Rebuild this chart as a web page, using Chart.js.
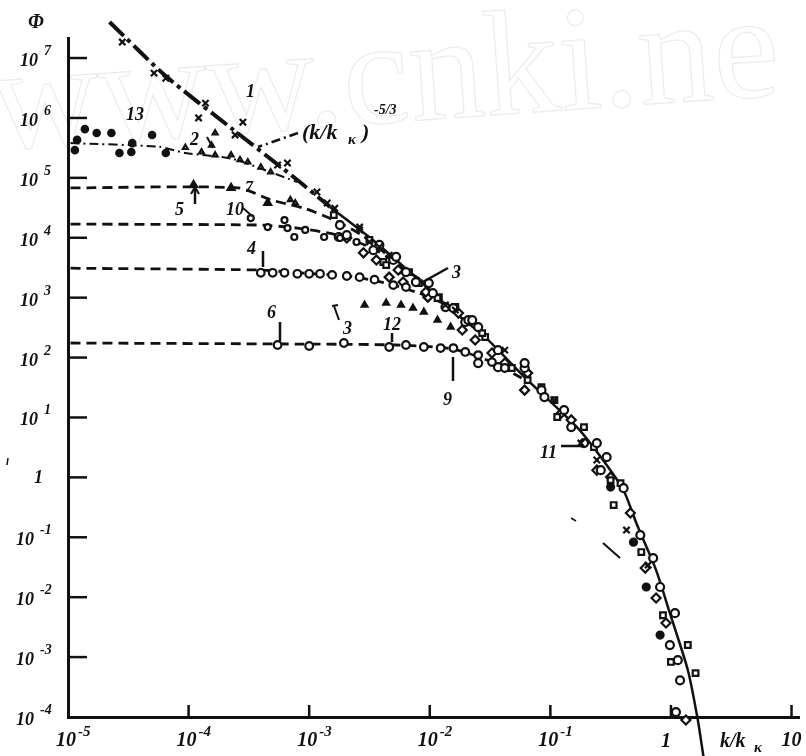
<!DOCTYPE html>
<html>
<head>
<meta charset="utf-8">
<script src="https://cdn.jsdelivr.net/npm/chart.js@4.4.1/dist/chart.umd.min.js"></script>
<style>
  html, body { margin: 0; padding: 0; background: #fff; }
  #grafico { display: block; }
</style>
</head>
<body>
<canvas id="grafico" width="806" height="756"></canvas>
<script>
// espectro universal: Phi em funcao de k/k_kappa
var reta1K = [2.21e-5, 6.47e-5, 2.25e-4, 7.98e-4, 1.49e-3];
var reta1Phi = [4.0e7, 5.0e6, 6.8e5, 9.2e4, 3.26e4];

var curvaK = [1.49e-3, 3.61e-3, 8.12e-3, 1.63e-2, 2.88e-2, 6.48e-2, 0.166, 0.262, 0.404, 0.516, 0.753, 0.98, 1.38, 1.66, 1.86];
var curvaPhi = [3.26e4, 8.2e3, 1.97e3, 553, 220, 42, 6.9, 2.18, 0.61, 0.173, 0.0283, 5.4e-3, 6.1e-4, 9.6e-5, 2.2e-5];

var nivel13K = [1.05e-5, 5.67e-5, 9.4e-5, 2.25e-4, 4.28e-4, 7.98e-4];
var nivel13Phi = [3.8e5, 3.3e5, 2.6e5, 2.1e5, 1.35e5, 8.5e4];
var nivel5K = [1.05e-5, 2.57e-4, 4.79e-4, 9.10e-4, 1.60e-3, 2.72e-3, 4.79e-3];
var nivel5Phi = [6.8e4, 6.8e4, 4.3e4, 3.1e4, 1.97e4, 1.11e4, 4.6e3];
var nivel10K = [1.05e-5, 3.75e-4, 7.98e-4, 1.70e-3, 3.61e-3, 6.35e-3, 9.27e-3];
var nivel10Phi = [1.69e4, 1.63e4, 1.45e4, 1.11e4, 6.2e3, 2.89e3, 1.75e3];
var nivel4K = [1.05e-5, 3.97e-4, 7.98e-4, 2.05e-3, 4.35e-3, 7.67e-3, 1.23e-2, 1.70e-2];
var nivel4Phi = [3.1e3, 2.89e3, 2.6e3, 2.3e3, 1.75e3, 1.24e3, 845, 513];
var nivel6K = [1.05e-5, 7.98e-4, 5.26e-3, 1.55e-2, 3.28e-2, 5.78e-2];
var nivel6Phi = [175, 168, 162, 139, 84, 45.5];

var crucesK = [2.82e-5, 5.17e-5, 6.47e-5, 1.38e-4, 1.21e-4, 2.82e-4, 2.43e-4, 5.47e-4, 6.61e-4, 1.16e-3, 1.41e-3, 1.63e-3, 2.62e-3, 3.16e-3, 3.82e-3, 1.63e-2, 0.179, 0.428, 0.647,
    2.62e-3, 4.61e-3, 1.35e-2, 4.19e-2, 0.108, 0.243];
var crucesPhi = [1.85e7, 5.6e6, 4.6e6, 1.77e6, 1.0e6, 8.5e5, 5.2e5, 1.64e5, 1.77e5, 5.8e4, 3.8e4, 3.1e4, 1.35e4, 8.5e3, 7.0e3, 621, 3.74, 0.132, 0.0344,
    1.51e4, 5.1e3, 752, 133, 19.5, 1.95];
var pontos13K = [1.38e-5, 1.73e-5, 2.29e-5, 1.19e-5, 1.14e-5, 2.67e-5, 3.35e-5, 4.98e-5, 6.47e-5, 3.41e-5];
var pontos13Phi = [6.5e5, 5.6e5, 5.6e5, 4.3e5, 2.9e5, 2.6e5, 2.7e5, 5.2e5, 2.6e5, 3.8e5];
var serie2K = [9.4e-5, 1.28e-4, 1.55e-4, 1.66e-4, 2.25e-4, 2.67e-4, 3.10e-4, 3.97e-4, 4.79e-4, 1.66e-4, 6.98e-4, 7.67e-4];
var serie2Phi = [3.2e5, 2.7e5, 3.5e5, 2.4e5, 2.4e5, 2.0e5, 1.84e5, 1.51e5, 1.25e5, 5.6e5, 4.3e4, 3.8e4];
var serie5K = [1.10e-4, 2.25e-4, 4.53e-4];
var serie5Phi = [7.6e4, 6.8e4, 3.8e4];
var serie10K = [3.28e-4, 4.53e-4, 6.61e-4, 9.27e-4, 1.33e-3, 1.80e-3, 7.53e-4, 6.24e-4, 2.47e-3];
var serie10Phi = [2.13e4, 1.51e4, 1.45e4, 1.35e4, 1.03e4, 9.9e3, 1.03e4, 1.97e4, 8.5e3];
var serie4K = [3.97e-4, 4.98e-4, 6.24e-4, 7.98e-4, 1.0e-3, 1.23e-3, 1.55e-3, 2.05e-3, 2.62e-3, 3.48e-3, 4.98e-3, 6.35e-3];
var serie4Phi = [2.6e3, 2.6e3, 2.6e3, 2.5e3, 2.5e3, 2.5e3, 2.4e3, 2.3e3, 2.2e3, 2.0e3, 1.62e3, 1.5e3];
var serie12K = [2.88e-3, 4.35e-3, 5.78e-3, 7.26e-3, 8.93e-3, 1.16e-2, 1.49e-2];
var serie12Phi = [752, 813, 752, 670, 575, 423, 323];
var serie6K = [5.47e-4, 1.0e-3, 1.94e-3, 4.61e-3, 6.35e-3, 8.93e-3, 1.23e-2, 1.57e-2, 1.97e-2, 2.52e-2, 3.28e-2, 4.19e-2];
var serie6Phi = [162, 156, 175, 150, 162, 150, 144, 144, 124, 110, 84, 67];
var circulosK = [1.76e-3, 2.05e-3, 3.41e-3, 4.98e-3, 6.35e-3, 9.82e-3, 1.35e-2, 1.97e-2, 2.52e-2, 2.09e-2, 3.68e-2, 6.12e-2, 8.44e-2, 0.149, 0.243, 0.293, 0.405, 0.557, 0.712, 0.813, 1.08, 0.98, 1.14, 1.19, 1.10,
    1.80e-3, 3.82e-3, 5.26e-3, 7.67e-3, 1.06e-2, 1.57e-2, 2.25e-2, 2.52e-2, 3.68e-2, 6.12e-2, 8.93e-2, 0.130, 0.190, 0.262];
var circulosPhi = [1.03e4, 1.11e4, 6.2e3, 4.25e3, 2.67e3, 1.75e3, 697, 392, 323, 423, 133, 67, 28.6, 6.9, 3.74, 2.18, 0.66, 0.109, 0.045, 0.0148, 5.4e-3, 1.59e-3, 8.9e-4, 4.1e-4, 1.21e-4,
    1.63e4, 7.6e3, 4.8e3, 1.82e3, 1.19e3, 670, 423, 81, 69, 81, 21.9, 13.3, 3.74, 1.32];
var quadradosK = [4.12e-3, 8.12e-3, 1.19e-2, 1.63e-2, 2.88e-2, 6.48e-2, 0.108, 0.190, 0.316, 0.335, 0.568, 0.859, 1.38, 1.60, 1.0,
    1.60e-3, 3.16e-3, 4.35e-3, 6.73e-3, 1.16e-2, 2.72e-2, 4.79e-2, 8.44e-2, 0.114, 0.230, 0.382];
var quadradosPhi = [3.93e3, 1.75e3, 1.02e3, 697, 220, 42, 19.5, 6.9, 0.90, 0.345, 0.0566, 5.0e-3, 1.59e-3, 5.4e-4, 8.3e-4,
    2.39e4, 9.2e3, 3.5e3, 2.67e3, 984, 256, 67, 32, 10.2, 3.2, 0.80];
var losangosK = [2.82e-3, 4.61e-3, 6.01e-3, 9.64e-3, 1.86e-2, 4.19e-2, 6.12e-2, 0.123, 0.243, 0.461, 0.612, 0.753, 0.910, 1.33,
    2.05e-3, 3.61e-3, 5.47e-3, 9.27e-3, 1.73e-2, 2.38e-2, 3.28e-2, 6.48e-2, 0.149, 0.316];
var losangosPhi = [5.6e3, 2.2e3, 1.82e3, 1.02e3, 288, 81, 28.6, 11.8, 1.32, 0.254, 0.0306, 9.7e-3, 3.7e-3, 8.9e-5,
    9.9e3, 4.25e3, 2.89e3, 1.24e3, 553, 196, 119, 55, 9.1, 1.01];
var cheiosK = [5.57e-3, 0.489, 0.624, 0.813, 0.316];
var cheiosPhi = [2.89e3, 0.083, 0.0148, 2.33e-3, 0.69];

var yTicks = [1e7, 1e6, 1e5, 1e4, 1e3, 1e2, 1e1, 1, 1e-1, 1e-2, 1e-3, 1e-4];
var yBases = ['10', '10', '10', '10', '10', '10', '10', '1', '10', '10', '10', '10'];
var yExpoentes = ['7', '6', '5', '4', '3', '2', '1', '', '-1', '-2', '-3', '-4'];
var xTicks = [1e-5, 1e-4, 1e-3, 1e-2, 1e-1, 1, 10];
var xBases = ['10', '10', '10', '10', '10', '1', '10'];
var xExpoentes = ['-5', '-4', '-3', '-2', '-1', '', ''];

function pares(xs, ys) {
    var r = [];
    for (var i = 0; i < xs.length; i++) {
        r.push({ x: xs[i], y: ys[i] });
    }
    return r;
}

function linha(xs, ys, largura, tracejado) {
    return {
        data: pares(xs, ys),
        showLine: true,
        borderColor: '#111',
        borderWidth: largura,
        borderDash: tracejado,
        pointRadius: 0,
        tension: 0.25,
        clip: false,
        order: 2
    };
}

function marcas(xs, ys, estilo, raio, cheio) {
    return {
        data: pares(xs, ys),
        showLine: false,
        pointStyle: estilo,
        pointRadius: raio,
        pointBorderColor: '#111',
        pointBackgroundColor: cheio ? '#111' : '#fff',
        pointBorderWidth: 2.2,
        clip: false,
        order: 1
    };
}

var fonte = "'Liberation Serif'";

function texto(ctx, s, x, y, tam, alinh) {
    ctx.font = 'italic bold ' + tam + 'px ' + fonte;
    ctx.textAlign = alinh || 'left';
    ctx.fillText(s, x, y);
}

function traco(ctx, x1, y1, x2, y2, w) {
    ctx.lineWidth = w || 2;
    ctx.beginPath();
    ctx.moveTo(x1, y1);
    ctx.lineTo(x2, y2);
    ctx.stroke();
}

var marcaDagua = {
    id: 'marcaDagua',
    beforeDraw: function (chart) {
        var ctx = chart.ctx;
        ctx.save();
        ctx.translate(-6, 150);
        ctx.rotate(-0.07);
        ctx.font = "150px 'Liberation Serif'";
        ctx.strokeStyle = 'rgba(0,0,0,0.08)';
        ctx.lineWidth = 1.3;
        ctx.strokeText('www.cnki.ne', 0, 0);
        ctx.restore();
    }
};

var rotulos = {
    id: 'rotulos',
    afterDraw: function (chart) {
        var ctx = chart.ctx;
        var xs = chart.scales.x;
        var ys = chart.scales.y;
        ctx.save();
        ctx.fillStyle = '#111';
        ctx.strokeStyle = '#111';
        ctx.textBaseline = 'alphabetic';

        // marcas e rotulos do eixo y
        for (var i = 0; i < yTicks.length; i++) {
            var py = ys.getPixelForValue(yTicks[i]);
            if (i < yTicks.length - 1) traco(ctx, xs.left, py, xs.left + 19, py, 2.5);
            var neg = yExpoentes[i].charAt(0) == '-';
            if (yExpoentes[i] == '') {
                texto(ctx, yBases[i], 43, py + 6, 18, 'right');
            } else {
                texto(ctx, yBases[i], neg ? 34 : 38, py + 8, 18, 'right');
                texto(ctx, yExpoentes[i], neg ? 40 : 44, py - 3, 14);
            }
        }
        // marcas e rotulos do eixo x
        for (var j = 0; j < xTicks.length; j++) {
            var px = xs.getPixelForValue(xTicks[j]);
            if (j > 0) traco(ctx, px, ys.bottom, px, ys.bottom - 12, 2.5);
            if (xExpoentes[j] == '') {
                if (xBases[j] == '1') texto(ctx, '1', px, ys.bottom + 30, 20, 'right');
                else texto(ctx, xBases[j], px - 10, ys.bottom + 29, 20);
            } else {
                texto(ctx, xBases[j], px - 12, ys.bottom + 29, 20);
                texto(ctx, xExpoentes[j], px + 10, ys.bottom + 19, 15);
            }
        }
        texto(ctx, 'k/k', 720, ys.bottom + 30, 20);
        texto(ctx, '\u03ba', 754, ys.bottom + 35, 15);
        texto(ctx, '\u03a6', 28, 28, 20);

        // numeros das curvas
        texto(ctx, '1', 246, 97, 18);
        texto(ctx, '13', 126, 120, 18);
        texto(ctx, '2', 190, 145, 18);
        texto(ctx, '(k/k', 302, 139, 22);
        texto(ctx, '\u03ba', 348, 144, 15);
        texto(ctx, ')', 362, 139, 22);
        texto(ctx, '-5/3', 374, 114, 14);
        texto(ctx, '5', 175, 215, 18);
        texto(ctx, '10', 226, 215, 18);
        texto(ctx, '7', 245, 192, 16);
        texto(ctx, '4', 247, 254, 18);
        texto(ctx, '3', 452, 278, 18);
        texto(ctx, '6', 267, 318, 18);
        texto(ctx, '3', 343, 334, 18);
        texto(ctx, '12', 383, 330, 18);
        texto(ctx, '9', 443, 405, 18);
        texto(ctx, '11', 540, 458, 18);

        // tracos de chamada
        traco(ctx, 195, 204, 195, 189, 2.5);
        traco(ctx, 191, 194, 195, 187, 2);
        traco(ctx, 199, 194, 195, 187, 2);
        traco(ctx, 263, 251, 263, 267, 2.5);
        traco(ctx, 448, 268, 421, 283, 2.5);
        traco(ctx, 280, 322, 280, 341, 2.5);
        traco(ctx, 392, 333, 392, 342, 2.5);
        traco(ctx, 453, 381, 453, 357, 2.5);
        traco(ctx, 561, 446, 583, 446, 2.5);
        traco(ctx, 339, 320, 334, 306, 2);
        traco(ctx, 332, 306, 338, 305, 2);
        traco(ctx, 207, 137, 213, 148, 2);
        traco(ctx, 243, 208, 252, 216, 2);
        ctx.setLineDash([9, 4, 2, 4]);
        traco(ctx, 298, 133, 258, 147, 2.5);
        ctx.setLineDash([]);
        // sujeira da impressao
        traco(ctx, 603, 543, 620, 558, 2);
        traco(ctx, 571, 518, 576, 521, 1.5);
        traco(ctx, 8, 458, 7, 465, 1.5);
        ctx.restore();
    }
};

var grafico = document.getElementById('grafico').getContext('2d');

new Chart(grafico, {
    type: 'scatter',
    data: {
        datasets: [
            marcas(crucesK, crucesPhi, 'crossRot', 4.5, false),
            marcas(pontos13K, pontos13Phi, 'circle', 3.2, true),
            marcas(serie2K, serie2Phi, 'triangle', 2.8, false),
            marcas(serie5K, serie5Phi, 'triangle', 4, true),
            marcas(serie10K, serie10Phi, 'circle', 3, false),
            marcas(serie4K, serie4Phi, 'circle', 3.8, false),
            marcas(serie12K, serie12Phi, 'triangle', 3.3, true),
            marcas(serie6K, serie6Phi, 'circle', 3.8, false),
            marcas(circulosK, circulosPhi, 'circle', 4, false),
            marcas(quadradosK, quadradosPhi, 'rect', 4, false),
            marcas(losangosK, losangosPhi, 'rectRot', 4.5, false),
            marcas(cheiosK, cheiosPhi, 'circle', 3.5, true),
            linha(reta1K, reta1Phi, 4, [20, 5, 4, 5]),
            linha(curvaK, curvaPhi, 2.5, []),
            linha(nivel13K, nivel13Phi, 2, [9, 4, 2, 4]),
            linha(nivel5K, nivel5Phi, 2.8, [10, 6]),
            linha(nivel10K, nivel10Phi, 2.8, [10, 6]),
            linha(nivel4K, nivel4Phi, 2.8, [10, 6]),
            linha(nivel6K, nivel6Phi, 2.8, [10, 6])
        ]
    },
    options: {
        responsive: false,
        animation: false,
        devicePixelRatio: 1,
        layout: {
            padding: { left: 68, right: 1, top: 38, bottom: 39 }
        },
        plugins: {
            legend: { display: false },
            tooltip: { enabled: false }
        },
        scales: {
            x: {
                type: 'logarithmic',
                min: 1e-5,
                max: 11.6,
                grid: { display: false, drawTicks: false },
                border: { display: true, color: '#111', width: 3 },
                ticks: { display: false }
            },
            y: {
                type: 'logarithmic',
                min: 1e-4,
                max: 2.16e7,
                grid: { display: false, drawTicks: false },
                border: { display: true, color: '#111', width: 3 },
                ticks: { display: false }
            }
        }
    },
    plugins: [marcaDagua, rotulos]
});
</script>
</body>
</html>
